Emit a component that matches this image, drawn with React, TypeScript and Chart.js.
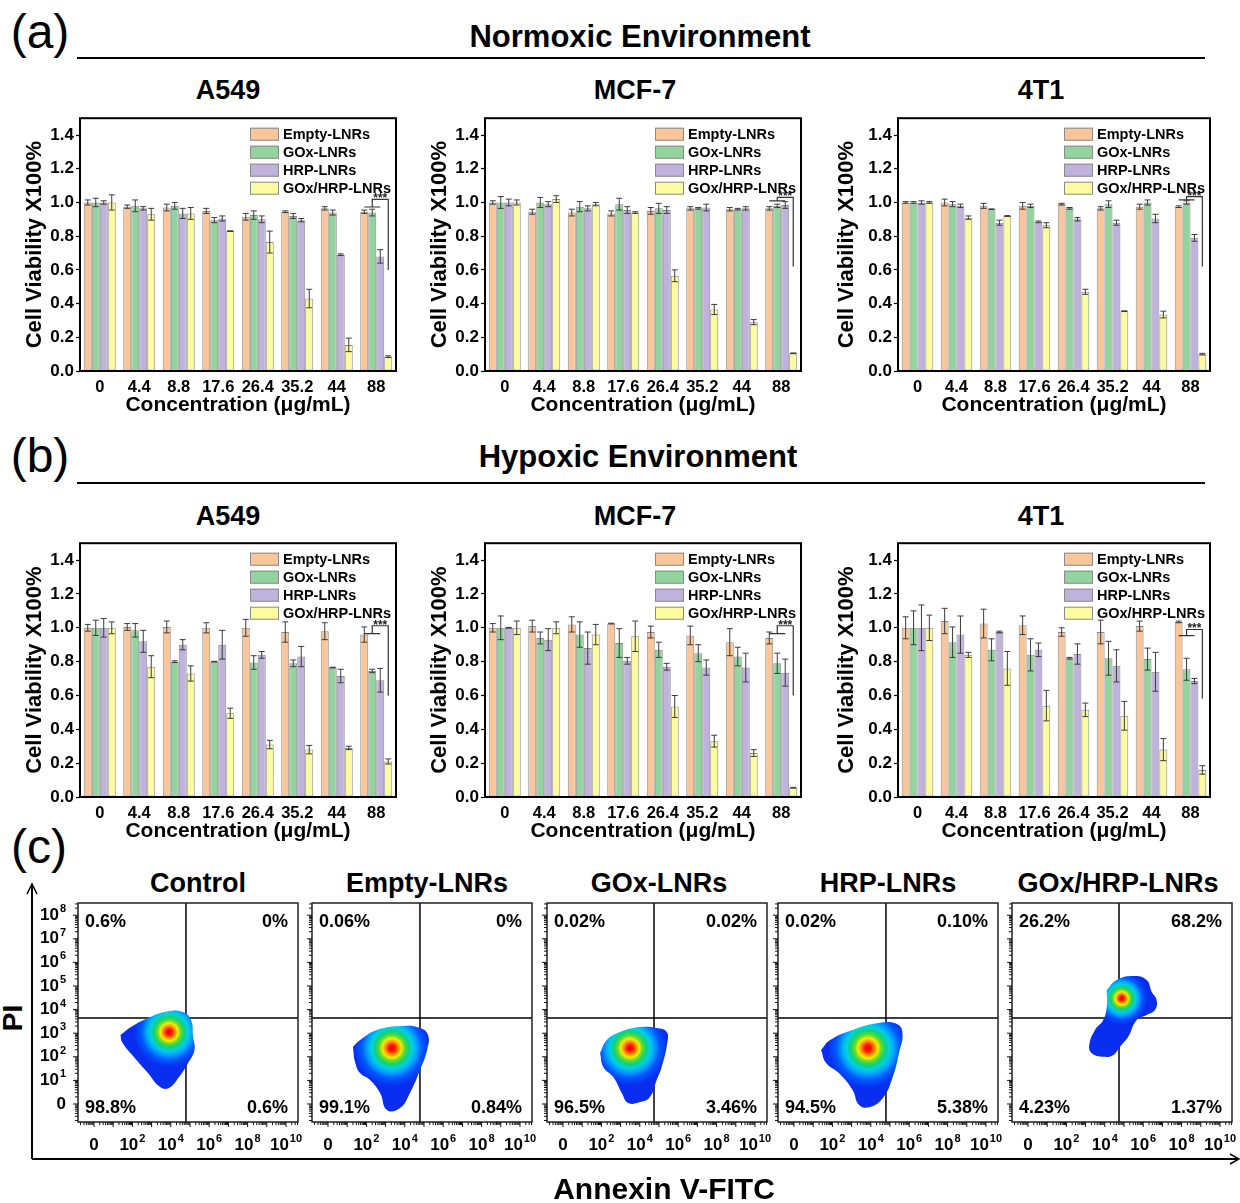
import React, { useEffect, useRef } from 'react';
import { Chart, registerables } from 'chart.js';

Chart.register(...registerables);

const FONT = '"Liberation Sans", Arial, Helvetica, sans-serif';
Chart.defaults.font.family = FONT;

// ---------------- data ----------------
const concentrations = ['0', '4.4', '8.8', '17.6', '26.4', '35.2', '44', '88'];
const seriesNames = ['Empty-LNRs', 'GOx-LNRs', 'HRP-LNRs', 'GOx/HRP-LNRs'];

// Normoxic A549
const normA549Empty = [1.0, 0.975, 0.97, 0.95, 0.915, 0.945, 0.965, 0.945];
const normA549EmptyErr = [0.015, 0.01, 0.02, 0.015, 0.02, 0.005, 0.01, 0.01];
const normA549GOx = [1.0, 0.98, 0.98, 0.895, 0.925, 0.92, 0.94, 0.94];
const normA549GOxErr = [0.025, 0.035, 0.02, 0.015, 0.025, 0.015, 0.015, 0.02];
const normA549HRP = [1.0, 0.965, 0.935, 0.905, 0.9, 0.895, 0.69, 0.68];
const normA549HRPErr = [0.01, 0.01, 0.03, 0.015, 0.02, 0.01, 0.005, 0.04];
const normA549Combo = [1.0, 0.93, 0.935, 0.83, 0.765, 0.43, 0.155, 0.085];
const normA549ComboErr = [0.045, 0.035, 0.035, 0.002, 0.065, 0.055, 0.04, 0.005];
const normA549Sig = [0.973, 1.018, 0.6];

// Normoxic MCF-7
const normMCF7Empty = [1.0, 0.945, 0.94, 0.935, 0.95, 0.965, 0.96, 0.965];
const normMCF7EmptyErr = [0.01, 0.015, 0.02, 0.015, 0.02, 0.01, 0.01, 0.01];
const normMCF7GOx = [1.0, 1.0, 0.975, 0.99, 0.965, 0.965, 0.96, 0.98];
const normMCF7GOxErr = [0.035, 0.03, 0.03, 0.035, 0.03, 0.005, 0.005, 0.01];
const normMCF7HRP = [1.0, 0.99, 0.965, 0.955, 0.955, 0.97, 0.965, 0.985];
const normMCF7HRPErr = [0.02, 0.015, 0.015, 0.02, 0.02, 0.02, 0.01, 0.02];
const normMCF7Combo = [1.0, 1.02, 0.99, 0.94, 0.565, 0.365, 0.29, 0.105];
const normMCF7ComboErr = [0.015, 0.02, 0.01, 0.005, 0.035, 0.03, 0.015, 0.002];
const normMCF7Sig = [1.01, 1.03, 0.62];

// Normoxic 4T1
const norm4T1Empty = [1.0, 1.0, 0.98, 0.98, 0.99, 0.965, 0.975, 0.975];
const norm4T1EmptyErr = [0.005, 0.02, 0.015, 0.02, 0.005, 0.01, 0.015, 0.005];
const norm4T1GOx = [1.0, 0.99, 0.96, 0.98, 0.965, 0.99, 1.0, 1.0];
const norm4T1GOxErr = [0.005, 0.015, 0.002, 0.01, 0.005, 0.02, 0.015, 0.01];
const norm4T1HRP = [1.0, 0.98, 0.88, 0.885, 0.9, 0.88, 0.905, 0.79];
const norm4T1HRPErr = [0.01, 0.01, 0.015, 0.005, 0.01, 0.015, 0.025, 0.02];
const norm4T1Combo = [1.0, 0.91, 0.92, 0.865, 0.47, 0.355, 0.335, 0.1];
const norm4T1ComboErr = [0.005, 0.01, 0.002, 0.015, 0.015, 0.002, 0.02, 0.005];
const norm4T1Sig = [1.015, 1.035, 0.62];

// Hypoxic A549
const hypoA549Empty = [1.0, 1.005, 1.005, 1.0, 1.0, 0.975, 0.98, 0.96];
const hypoA549EmptyErr = [0.02, 0.02, 0.035, 0.03, 0.05, 0.06, 0.05, 0.045];
const hypoA549GOx = [1.0, 0.985, 0.8, 0.8, 0.795, 0.79, 0.765, 0.745];
const hypoA549GOxErr = [0.045, 0.04, 0.005, 0.002, 0.04, 0.02, 0.002, 0.01];
const hypoA549HRP = [1.0, 0.92, 0.9, 0.9, 0.84, 0.83, 0.715, 0.69];
const hypoA549HRPErr = [0.055, 0.065, 0.03, 0.085, 0.02, 0.06, 0.04, 0.07];
const hypoA549Combo = [1.0, 0.77, 0.73, 0.495, 0.31, 0.28, 0.29, 0.21];
const hypoA549ComboErr = [0.035, 0.065, 0.045, 0.03, 0.025, 0.025, 0.01, 0.015];
const hypoA549Sig = [0.965, 1.012, 0.6];

// Hypoxic MCF-7
const hypoMCF7Empty = [1.0, 1.01, 1.02, 1.025, 0.975, 0.955, 0.915, 0.94];
const hypoMCF7EmptyErr = [0.025, 0.035, 0.045, 0.002, 0.035, 0.055, 0.08, 0.035];
const hypoMCF7GOx = [1.0, 0.94, 0.96, 0.91, 0.87, 0.85, 0.83, 0.79];
const hypoMCF7GOxErr = [0.07, 0.035, 0.075, 0.085, 0.045, 0.05, 0.055, 0.06];
const hypoMCF7HRP = [1.0, 0.93, 0.88, 0.805, 0.77, 0.765, 0.765, 0.735];
const hypoMCF7HRPErr = [0.002, 0.065, 0.095, 0.02, 0.02, 0.045, 0.085, 0.08];
const hypoMCF7Combo = [1.0, 1.0, 0.96, 0.95, 0.535, 0.33, 0.26, 0.055];
const hypoMCF7ComboErr = [0.04, 0.035, 0.06, 0.09, 0.065, 0.035, 0.02, 0.002];
const hypoMCF7Sig = [0.965, 1.012, 0.6];

// Hypoxic 4T1
const hypo4T1Empty = [1.0, 1.04, 1.025, 1.015, 0.975, 0.975, 1.01, 1.035];
const hypo4T1EmptyErr = [0.065, 0.075, 0.085, 0.055, 0.025, 0.07, 0.03, 0.005];
const hypo4T1GOx = [1.0, 0.915, 0.87, 0.84, 0.82, 0.82, 0.815, 0.755];
const hypo4T1GOxErr = [0.1, 0.09, 0.065, 0.095, 0.005, 0.1, 0.065, 0.065];
const hypo4T1HRP = [1.0, 0.96, 0.975, 0.87, 0.845, 0.775, 0.74, 0.685];
const hypo4T1HRPErr = [0.135, 0.11, 0.005, 0.04, 0.06, 0.095, 0.115, 0.015];
const hypo4T1Combo = [1.0, 0.84, 0.76, 0.54, 0.515, 0.48, 0.28, 0.16];
const hypo4T1ComboErr = [0.075, 0.015, 0.1, 0.09, 0.04, 0.085, 0.065, 0.025];
const hypo4T1Sig = [0.954, 0.99, 0.58];

// Flow cytometry (Annexin V-FITC / PI), axes in decades
const flowGroups = ['Control', 'Empty-LNRs', 'GOx-LNRs', 'HRP-LNRs', 'GOx/HRP-LNRs'];
const flowQuadrantLabels = [
  ['0.6%', '0%', '98.8%', '0.6%'],
  ['0.06%', '0%', '99.1%', '0.84%'],
  ['0.02%', '0.02%', '96.5%', '3.46%'],
  ['0.02%', '0.10%', '94.5%', '5.38%'],
  ['26.2%', '68.2%', '4.23%', '1.37%'],
];
const flowGateX = [4.79, 4.79, 4.74, 4.79, 4.74];
const flowGateY = [3.64, 3.64, 3.64, 3.64, 3.64];
const flowXTicks = [0, 2, 4, 6, 8, 10];
const flowYTicks = [0, 1, 2, 3, 4, 5, 6, 7, 8];
const flowPeaks = [
  [3.91, 3.05],
  [3.33, 2.37],
  [3.49, 2.37],
  [3.85, 2.37],
  [4.88, 4.48],
];
const flowOutlineControl = [
  [1.38, 2.92], [1.93, 3.26], [2.81, 3.64], [3.7, 3.9], [4.61, 3.9], [5.05, 3.56], [5.16, 2.84],
  [5.23, 2.29], [4.9, 1.74], [4.43, 1.14], [3.91, 0.68], [3.44, 0.72], [2.81, 1.31], [2.08, 1.99], [1.46, 2.63],
];
const flowOutlineEmpty = [
  [1.3, 2.42], [1.67, 2.71], [2.55, 3.14], [3.91, 3.31], [4.79, 3.22], [5.21, 2.92], [5.16, 2.29],
  [4.79, 1.44], [4.27, 0.47], [3.75, -0.17], [3.07, -0.25], [2.71, 0.47], [2.19, 1.02], [1.67, 1.31], [1.41, 1.78],
];
const flowOutlineGOx = [
  [1.93, 2.16], [2.28, 2.71], [2.97, 3.05], [4.01, 3.26], [4.88, 3.22], [5.4, 3.05], [5.43, 2.58],
  [5.14, 1.57], [4.88, 1.02], [4.53, 0.3], [4.01, 0.08], [3.4, 0.04], [3.06, 0.47], [2.62, 1.14], [2.1, 1.57],
];
const flowOutlineHRP = [
  [1.41, 2.29], [1.88, 2.71], [3.05, 3.14], [4.43, 3.43], [5.36, 3.39], [5.65, 3.01], [5.47, 2.16],
  [5.14, 1.14], [4.67, 0.3], [3.96, -0.13], [3.39, -0.04], [3.05, 0.59], [2.34, 1.31], [1.67, 1.74],
];
const flowOutlineCombo = [
  [4.1, 4.83], [4.62, 5.25], [5.48, 5.42], [6.18, 5.25], [6.44, 4.76], [6.7, 4.41], [6.61, 3.98],
  [6.18, 3.77], [5.66, 3.56], [5.22, 2.85], [4.79, 2.43], [4.44, 2.08], [3.92, 2.0], [3.32, 2.15],
  [3.19, 2.5], [3.49, 3.14], [3.92, 3.56], [4.1, 4.12],
];
const flowOutlines = [flowOutlineControl, flowOutlineEmpty, flowOutlineGOx, flowOutlineHRP, flowOutlineCombo];

// ---------------- styles / layout ----------------
const seriesColors = ['#F9C59A', '#93D49E', '#BFB2DC', '#FDFBA0'];
const barBorder = '#8a8a8a';

type BarCfg = {
  title: string;
  values: number[][];
  errors: number[][];
  sig: number[];
  frame: number[]; // left, top, right, bottom
  yTitleGap: number;
  titleX: number;
  titleY: number;
};

const colFrames = [
  [80, 396],
  [485, 801],
  [898, 1210],
];
const rowFrames = [
  [116, 371],
  [541, 797],
];
const colTitleX = [228, 635, 1041];
const rowTitleY = [90, 516];
const colYTitleGap = [45, 45, 51];

const barPanels: BarCfg[] = [
  {
    title: 'A549',
    values: [normA549Empty, normA549GOx, normA549HRP, normA549Combo],
    errors: [normA549EmptyErr, normA549GOxErr, normA549HRPErr, normA549ComboErr],
    sig: normA549Sig,
    frame: [colFrames[0][0], rowFrames[0][0], colFrames[0][1], rowFrames[0][1]],
    yTitleGap: colYTitleGap[0], titleX: colTitleX[0], titleY: rowTitleY[0],
  },
  {
    title: 'MCF-7',
    values: [normMCF7Empty, normMCF7GOx, normMCF7HRP, normMCF7Combo],
    errors: [normMCF7EmptyErr, normMCF7GOxErr, normMCF7HRPErr, normMCF7ComboErr],
    sig: normMCF7Sig,
    frame: [colFrames[1][0], rowFrames[0][0], colFrames[1][1], rowFrames[0][1]],
    yTitleGap: colYTitleGap[1], titleX: colTitleX[1], titleY: rowTitleY[0],
  },
  {
    title: '4T1',
    values: [norm4T1Empty, norm4T1GOx, norm4T1HRP, norm4T1Combo],
    errors: [norm4T1EmptyErr, norm4T1GOxErr, norm4T1HRPErr, norm4T1ComboErr],
    sig: norm4T1Sig,
    frame: [colFrames[2][0], rowFrames[0][0], colFrames[2][1], rowFrames[0][1]],
    yTitleGap: colYTitleGap[2], titleX: colTitleX[2], titleY: rowTitleY[0],
  },
  {
    title: 'A549',
    values: [hypoA549Empty, hypoA549GOx, hypoA549HRP, hypoA549Combo],
    errors: [hypoA549EmptyErr, hypoA549GOxErr, hypoA549HRPErr, hypoA549ComboErr],
    sig: hypoA549Sig,
    frame: [colFrames[0][0], rowFrames[1][0], colFrames[0][1], rowFrames[1][1]],
    yTitleGap: colYTitleGap[0], titleX: colTitleX[0], titleY: rowTitleY[1],
  },
  {
    title: 'MCF-7',
    values: [hypoMCF7Empty, hypoMCF7GOx, hypoMCF7HRP, hypoMCF7Combo],
    errors: [hypoMCF7EmptyErr, hypoMCF7GOxErr, hypoMCF7HRPErr, hypoMCF7ComboErr],
    sig: hypoMCF7Sig,
    frame: [colFrames[1][0], rowFrames[1][0], colFrames[1][1], rowFrames[1][1]],
    yTitleGap: colYTitleGap[1], titleX: colTitleX[1], titleY: rowTitleY[1],
  },
  {
    title: '4T1',
    values: [hypo4T1Empty, hypo4T1GOx, hypo4T1HRP, hypo4T1Combo],
    errors: [hypo4T1EmptyErr, hypo4T1GOxErr, hypo4T1HRPErr, hypo4T1ComboErr],
    sig: hypo4T1Sig,
    frame: [colFrames[2][0], rowFrames[1][0], colFrames[2][1], rowFrames[1][1]],
    yTitleGap: colYTitleGap[2], titleX: colTitleX[2], titleY: rowTitleY[1],
  },
];

const flowFrameLefts = [78, 312, 547, 778, 1012];
const flowFrameW = 220;
const flowFrameTop = 903;
const flowFrameBottom = 1122;
const flowTitleX = [198, 427, 659, 888, 1118];
const flowTitleY = 883;
const flowCoreRadius = [35, 38, 37, 40, 26];
const flowXRange = [-0.833, 10.625];
const flowYRange = [-0.763, 8.517];

// ---------------- plugins ----------------
const barDeco = {
  id: 'barDeco',
  afterDatasetsDraw(chart: any, _args: any, opts: any) {
    const { ctx, chartArea: ca, scales } = chart;
    const ys = scales.y;
    ctx.save();
    // error bars
    chart.data.datasets.forEach((ds: any, i: number) => {
      const meta = chart.getDatasetMeta(i);
      meta.data.forEach((el: any, j: number) => {
        const v = ds.data[j];
        const e = ds.errors[j];
        const x = el.x;
        const y1 = ys.getPixelForValue(v + e);
        const y2 = ys.getPixelForValue(v - e);
        ctx.strokeStyle = '#3c3c3c';
        ctx.lineWidth = 1;
        ctx.beginPath();
        ctx.moveTo(x, y1);
        ctx.lineTo(x, y2);
        ctx.moveTo(x - 3, y1);
        ctx.lineTo(x + 3, y1);
        ctx.moveTo(x - 3, y2);
        ctx.lineTo(x + 3, y2);
        ctx.stroke();
      });
    });
    // significance bracket at last group
    const last = chart.data.labels.length - 1;
    const xs = [0, 1, 2, 3].map((i) => chart.getDatasetMeta(i).data[last].x);
    const [s1, s2, s3] = opts.sig.map((v: number) => ys.getPixelForValue(v));
    ctx.strokeStyle = '#333';
    ctx.lineWidth = 1.2;
    ctx.beginPath();
    ctx.moveTo(xs[0], s1);
    ctx.lineTo(xs[2], s1);
    ctx.moveTo(xs[1], s1);
    ctx.lineTo(xs[1], s2);
    ctx.lineTo(xs[3], s2);
    ctx.lineTo(xs[3], s3);
    ctx.stroke();
    ctx.fillStyle = '#222';
    ctx.font = `bold 12px ${FONT}`;
    ctx.textAlign = 'center';
    ctx.textBaseline = 'alphabetic';
    ctx.fillText('***', (xs[1] + xs[3]) / 2, s2 + 3);
    // legend
    const bx = ca.right - 146;
    seriesNames.forEach((name, i) => {
      const cy = ca.top + 16 + i * 18;
      ctx.fillStyle = seriesColors[i];
      ctx.fillRect(bx, cy - 6.5, 29, 13);
      ctx.strokeStyle = barBorder;
      ctx.lineWidth = 1;
      ctx.strokeRect(bx + 0.5, cy - 6, 28, 12);
      ctx.fillStyle = '#000';
      ctx.font = `bold 14.5px ${FONT}`;
      ctx.textAlign = 'left';
      ctx.textBaseline = 'middle';
      ctx.fillText(name, bx + 33, cy + 1);
    });
    // frame
    ctx.strokeStyle = '#000';
    ctx.lineWidth = 2;
    ctx.strokeRect(ca.left, ca.top, ca.right - ca.left, ca.bottom - ca.top);
    ctx.restore();
  },
};

function drawPow(ctx: any, exp: number | null, x: number, y: number, align: string) {
  const baseFont = `bold 17px ${FONT}`;
  const expFont = `bold 11px ${FONT}`;
  ctx.textBaseline = 'middle';
  ctx.textAlign = 'left';
  if (exp === null) {
    ctx.font = baseFont;
    const w = ctx.measureText('0').width;
    const sx = align === 'center' ? x - w / 2 : x - w;
    ctx.fillText('0', sx, y);
    return;
  }
  ctx.font = baseFont;
  const wb = ctx.measureText('10').width;
  ctx.font = expFont;
  const we = ctx.measureText(String(exp)).width;
  const total = wb + we + 1;
  const sx = align === 'center' ? x - total / 2 : x - total;
  ctx.font = baseFont;
  ctx.fillText('10', sx, y);
  ctx.font = expFont;
  ctx.fillText(String(exp), sx + wb + 1, y - 6);
}

const flowDeco = {
  id: 'flowDeco',
  afterDatasetsDraw(chart: any, _args: any, opts: any) {
    const { ctx, chartArea: ca, scales } = chart;
    const xs = scales.x;
    const ys = scales.y;
    ctx.save();
    ctx.strokeStyle = '#222';
    ctx.lineWidth = 1.5;
    ctx.strokeRect(ca.left, ca.top, ca.right - ca.left, ca.bottom - ca.top);
    // log-style tick marks
    ctx.lineWidth = 1;
    ctx.strokeStyle = '#111';
    ctx.beginPath();
    for (let d = -1; d <= 11; d++) {
      for (let k = 1; k <= 9; k++) {
        const v = d + Math.log10(k);
        const len = k === 1 ? 5 : 3;
        if (v >= xs.min && v <= xs.max) {
          const px = xs.getPixelForValue(v);
          ctx.moveTo(px, ca.bottom);
          ctx.lineTo(px, ca.bottom + len);
        }
        if (v >= ys.min && v <= ys.max) {
          const py = ys.getPixelForValue(v);
          ctx.moveTo(ca.left, py);
          ctx.lineTo(ca.left - len, py);
        }
      }
    }
    ctx.stroke();
    ctx.fillStyle = '#000';
    flowXTicks.forEach((v) => {
      drawPow(ctx, v === 0 ? null : v, xs.getPixelForValue(v), ca.bottom + 23, 'center');
    });
    if (opts.showY) {
      flowYTicks.forEach((v) => {
        drawPow(ctx, v === 0 ? null : v, ca.left - 12, ys.getPixelForValue(v), 'right');
      });
    }
    const q = opts.labels;
    ctx.font = `bold 18px ${FONT}`;
    ctx.textBaseline = 'middle';
    ctx.textAlign = 'left';
    ctx.fillText(q[0], ca.left + 7, ca.top + 19);
    ctx.fillText(q[2], ca.left + 7, ca.bottom - 14);
    ctx.textAlign = 'right';
    ctx.fillText(q[1], ca.right - 10, ca.top + 19);
    ctx.fillText(q[3], ca.right - 10, ca.bottom - 14);
    ctx.restore();
  },
};

// ---------------- components ----------------
function BarPanel({ cfg }: { cfg: BarCfg }) {
  const ref = useRef<HTMLCanvasElement>(null);
  const [fl, ft, fr, fb] = cfg.frame;
  const padL = 0, padT = 10, padR = 15, yW = 75, xH = 50;
  const W = fr - fl + yW + padR;
  const H = fb - ft + padT + xH;
  useEffect(() => {
    const chart = new Chart(ref.current as HTMLCanvasElement, {
      type: 'bar',
      data: {
        labels: concentrations,
        datasets: seriesNames.map((name, i) => ({
          label: name,
          data: cfg.values[i],
          errors: cfg.errors[i],
          backgroundColor: seriesColors[i],
          borderColor: barBorder,
          borderWidth: 1,
          borderSkipped: false,
          categoryPercentage: 0.81,
          barPercentage: 1.0,
        })) as any,
      },
      options: {
        animation: false,
        responsive: false,
        devicePixelRatio: 1,
        layout: { padding: { left: padL, top: padT, right: padR, bottom: 0 } },
        plugins: {
          legend: { display: false },
          tooltip: { enabled: false },
          barDeco: { sig: cfg.sig },
        } as any,
        scales: {
          x: {
            type: 'category',
            grid: { display: false, drawTicks: false },
            border: { display: false },
            ticks: { font: { size: 16.5, weight: 'bold' }, color: '#000', padding: 7, maxRotation: 0, autoSkip: false },
            title: {
              display: true,
              text: 'Concentration (μg/mL)',
              font: { size: 21, weight: 'bold' },
              color: '#000',
              padding: { top: 0, bottom: 3 },
            },
            afterFit: (s: any) => { s.height = xH; },
          },
          y: {
            min: 0,
            max: 1.5,
            ticks: {
              stepSize: 0.1,
              font: { size: 17, weight: 'bold' },
              color: '#000',
              padding: 2,
              callback: (v: any) => (Math.round(Number(v) * 10) % 2 === 0 ? Number(v).toFixed(1) : ''),
            },
            grid: { drawOnChartArea: false, drawTicks: true, tickLength: 4, tickColor: '#000', tickWidth: 1.2 },
            border: { display: false },
            title: {
              display: true,
              text: 'Cell Viability X100%',
              font: { size: 22, weight: 'bold' },
              color: '#000',
              padding: { top: 62 - cfg.yTitleGap, bottom: 0 },
            },
            afterFit: (s: any) => { s.width = yW; },
          },
        } as any,
      },
      plugins: [barDeco],
    });
    return () => chart.destroy();
  }, []);
  return (
    <canvas
      ref={ref}
      width={W}
      height={H}
      style={{ position: 'absolute', left: fl - yW - padL, top: ft - padT, width: W, height: H }}
    />
  );
}

function FlowPanel({ idx }: { idx: number }) {
  const ref = useRef<HTMLCanvasElement>(null);
  const fl = flowFrameLefts[idx];
  const padL = 50, padT = 5, padR = 8, padB = 42;
  const W = flowFrameW + padL + padR;
  const H = flowFrameBottom - flowFrameTop + padT + padB;
  useEffect(() => {
    const outline = flowOutlines[idx].map(([x, y]) => ({ x, y }));
    outline.push({ ...outline[0] });
    const peak = flowPeaks[idx];
    const radius = flowCoreRadius[idx];
    const gradientFill = (c: any) => {
      const chart = c.chart;
      const sx = chart.scales && chart.scales.x;
      const sy = chart.scales && chart.scales.y;
      if (!sx || !sy || !chart.chartArea) return '#1030f0';
      const cx = sx.getPixelForValue(peak[0]);
      const cy = sy.getPixelForValue(peak[1]);
      const g = chart.ctx.createRadialGradient(cx, cy, 0, cx, cy, radius);
      g.addColorStop(0.0, '#E00000');
      g.addColorStop(0.09, '#FF1a00');
      g.addColorStop(0.17, '#FF8C00');
      g.addColorStop(0.25, '#F4EE00');
      g.addColorStop(0.34, '#5CDC2C');
      g.addColorStop(0.44, '#10D080');
      g.addColorStop(0.54, '#00D2E0');
      g.addColorStop(0.66, '#00A0FF');
      g.addColorStop(0.8, '#0058FF');
      g.addColorStop(1.0, '#0A2EF0');
      return g;
    };
    const gx = flowGateX[idx];
    const gy = flowGateY[idx];
    const chart = new Chart(ref.current as HTMLCanvasElement, {
      type: 'scatter',
      data: {
        datasets: [
          {
            data: outline,
            showLine: true,
            fill: 'shape',
            tension: 0.45,
            borderWidth: 0,
            borderColor: 'rgba(0,0,0,0)',
            pointRadius: 0,
            backgroundColor: gradientFill,
          },
          {
            data: [{ x: gx, y: flowYRange[0] }, { x: gx, y: flowYRange[1] }],
            showLine: true,
            borderColor: '#000',
            borderWidth: 1.5,
            pointRadius: 0,
            fill: false,
          },
          {
            data: [{ x: flowXRange[0], y: gy }, { x: flowXRange[1], y: gy }],
            showLine: true,
            borderColor: '#000',
            borderWidth: 1.5,
            pointRadius: 0,
            fill: false,
          },
        ] as any,
      },
      options: {
        animation: false,
        responsive: false,
        devicePixelRatio: 1,
        layout: { padding: { left: padL, top: padT, right: padR, bottom: padB } },
        plugins: {
          legend: { display: false },
          tooltip: { enabled: false },
          flowDeco: { labels: flowQuadrantLabels[idx], showY: idx === 0 },
        } as any,
        scales: {
          x: { type: 'linear', min: flowXRange[0], max: flowXRange[1], display: false },
          y: { type: 'linear', min: flowYRange[0], max: flowYRange[1], display: false },
        },
      },
      plugins: [flowDeco],
    });
    return () => chart.destroy();
  }, []);
  return (
    <canvas
      ref={ref}
      width={W}
      height={H}
      style={{ position: 'absolute', left: fl - padL, top: flowFrameTop - padT, width: W, height: H }}
    />
  );
}

function Txt({ x, y, size, text, bold = true, rotate = 0 }: any) {
  return (
    <div
      style={{
        position: 'absolute',
        left: x,
        top: y,
        transform: `translate(-50%, -50%) rotate(${rotate}deg)`,
        fontFamily: FONT,
        fontWeight: bold ? 'bold' : 'normal',
        fontSize: size,
        lineHeight: 1,
        whiteSpace: 'nowrap',
        color: '#000',
      }}
    >
      {text}
    </div>
  );
}

export default function App() {
  return (
    <div
      style={{
        position: 'absolute',
        left: 0,
        top: 0,
        width: 1240,
        height: 1203,
        background: '#fff',
        overflow: 'hidden',
      }}
    >
      <svg width={1240} height={1203} style={{ position: 'absolute', left: 0, top: 0 }}>
        <line x1={77} y1={58} x2={1205} y2={58} stroke="#000" strokeWidth={2} />
        <line x1={77} y1={483} x2={1205} y2={483} stroke="#000" strokeWidth={2} />
        <line x1={32} y1={1159} x2={32} y2={884} stroke="#000" strokeWidth={2} />
        <polyline points="27,894 32,884 37,894" fill="none" stroke="#000" strokeWidth={1.5} />
        <line x1={32} y1={1159} x2={1238} y2={1159} stroke="#000" strokeWidth={2} />
        <polyline points="1230,1154 1239,1159 1230,1164" fill="none" stroke="#000" strokeWidth={1.5} />
      </svg>

      <Txt x={40} y={32} size={48} text="(a)" bold={false} />
      <Txt x={640} y={36} size={31} text="Normoxic Environment" />
      <Txt x={40} y={456} size={48} text="(b)" bold={false} />
      <Txt x={638} y={456} size={31} text="Hypoxic Environment" />
      <Txt x={39} y={847} size={48} text="(c)" bold={false} />

      {barPanels.map((p, i) => (
        <React.Fragment key={i}>
          <Txt x={p.titleX} y={p.titleY} size={27} text={p.title} />
          <BarPanel cfg={p} />
        </React.Fragment>
      ))}

      {flowGroups.map((g, i) => (
        <React.Fragment key={g}>
          <Txt x={flowTitleX[i]} y={flowTitleY} size={27} text={g} />
          <FlowPanel idx={i} />
        </React.Fragment>
      ))}

      <Txt x={13} y={1018} size={28} text="PI" rotate={-90} />
      <Txt x={664} y={1189} size={30} text="Annexin V-FITC" />
    </div>
  );
}
